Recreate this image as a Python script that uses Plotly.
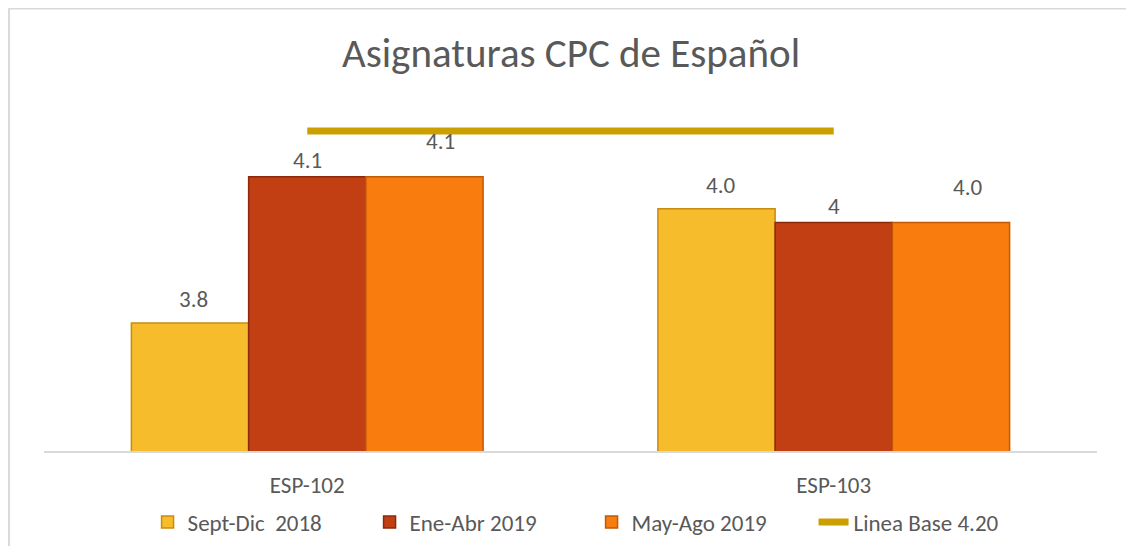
import plotly.graph_objects as go

categories = ["ESP-102", "ESP-103"]
series_names = ["Sept-Dic\u00a0 2018", "Ene-Abr 2019", "May-Ago 2019"]
sept_dic_2018 = [3.78, 4.03]
ene_abr_2019 = [4.10, 4.00]
may_ago_2019 = [4.10, 4.00]
value_labels = [["3.8", "4.0"], ["4.1", "4"], ["4.1", "4.0"]]
baseline_name = "Linea Base 4.20"
baseline_value = 4.20

series_values = [sept_dic_2018, ene_abr_2019, may_ago_2019]
colors = ["#F7BC2B", "#C23F14", "#F97C0E"]
edge_colors = ["#C98A10", "#8A2A0A", "#C05A08"]

FONT = "Carlito, 'Liberation Sans Narrow', 'Open Sans', sans-serif"
# page body adds an 8px offset, so the figure is sized to fit the window
W, H = 1126, 538
ML, MR, MT, MB = 35.5, 36.5, 92, 95
PH = H - MT - MB
bargap = 0.332
plot_w = W - ML - MR
bar_px = plot_w / len(categories) * (1 - bargap) / 3

fig = go.Figure()
for name, vals, c, ec in zip(series_names, series_values, colors, edge_colors):
    fig.add_trace(go.Bar(x=categories, y=vals, name=name,
                         marker=dict(color=c, line=dict(color=ec, width=1.5))))

fig.add_trace(go.Scatter(x=categories, y=[baseline_value] * len(categories),
                         mode="lines", name=baseline_name,
                         line=dict(color="#CC9F00", width=7)))

# data labels
label_dy = [24, 17, 36]
label_dx = [4, 0, 16]
for si, (vals, labs) in enumerate(zip(series_values, value_labels)):
    for ci, cat in enumerate(categories):
        fig.add_annotation(x=cat, y=vals[ci], text=labs[ci], showarrow=False,
                           xshift=(si - 1) * bar_px + label_dx[si],
                           yshift=label_dy[si], yanchor="middle",
                           font=dict(family=FONT, size=23, color="#595959"))

# chart border (left and top)
fig.add_shape(type="line", xref="paper", yref="paper",
              x0=-(ML - 0.5) / plot_w, x1=-(ML - 0.5) / plot_w,
              y0=-MB / PH - 0.01, y1=1 + (MT - 0.5) / PH,
              line=dict(color="#D9D9D9", width=2))
fig.add_shape(type="line", xref="paper", yref="paper",
              x0=-ML / plot_w, x1=1 + MR / plot_w,
              y0=1 + (MT - 0.5) / PH, y1=1 + (MT - 0.5) / PH,
              line=dict(color="#D9D9D9", width=2))

fig.update_layout(
    width=W, height=H,
    margin=dict(l=ML, r=MR, t=MT, b=MB, autoexpand=False),
    paper_bgcolor="white", plot_bgcolor="white",
    barmode="group", bargap=bargap, bargroupgap=0,
    title=dict(text="Asignaturas CPC de Español", x=0.5, xanchor="center",
               y=1 - 45 / H, yanchor="middle",
               font=dict(family=FONT, size=41, color="#595959")),
    font=dict(family=FONT, size=23, color="#595959"),
    xaxis=dict(showline=True, linecolor="#D9D9D9", linewidth=2, ticks="",
               showgrid=False, ticklabelstandoff=12,
               tickfont=dict(family=FONT, size=23, color="#595959")),
    yaxis=dict(range=[3.5, 3.5 + PH / 457], visible=False, showgrid=False),
    legend=dict(orientation="h", x=0.52, xanchor="center",
                yref="container", y=1 - 514 / H,
                yanchor="middle", font=dict(family=FONT, size=23, color="#595959"),
                itemwidth=30, entrywidth=177, entrywidthmode="pixels",
                traceorder="normal"),
    showlegend=True,
)

fig.write_html("out.html")
